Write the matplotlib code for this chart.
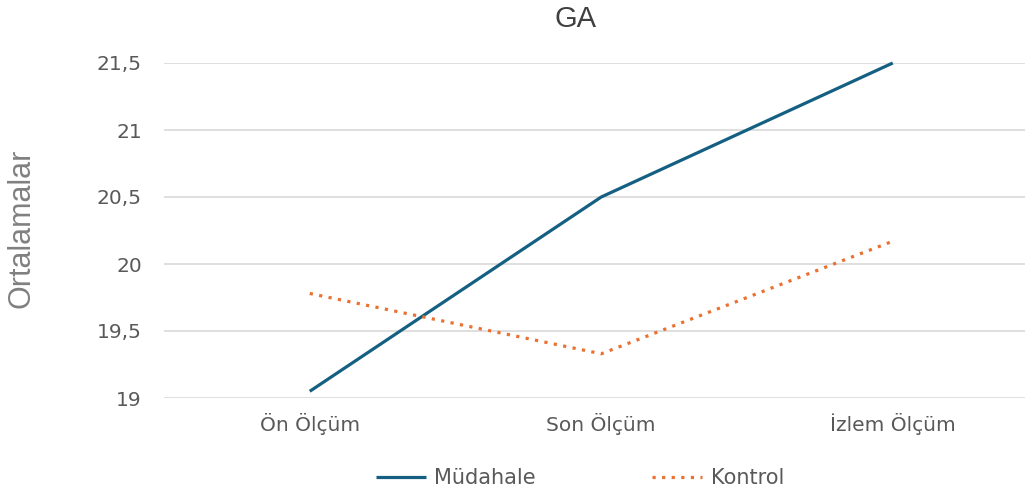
import numpy as np
import matplotlib
matplotlib.use('Agg')
import matplotlib.pyplot as plt
from matplotlib.ticker import FuncFormatter

categories = ['Ön Ölçüm', 'Son Ölçüm', 'İzlem Ölçüm']
mudahale = [19.05, 20.5, 21.5]
kontrol = [19.78, 19.33, 20.17]
yticks = [19, 19.5, 20, 20.5, 21, 21.5]

blue = '#156082'
orange = '#E97132'
txt = '#595959'

fig = plt.figure(figsize=(10.25, 4.95), dpi=100)
ax = fig.add_axes([164 / 1025, 97 / 495, 874.5 / 1025, 335 / 495])

x = np.arange(len(categories))
ax.plot(x, mudahale, color=blue, lw=2.3, solid_capstyle='butt', clip_on=False, label='Müdahale')
ax.plot(x, kontrol, color=orange, lw=2.3, linestyle=(0, (1, 2)), clip_on=False, label='Kontrol')

ax.set_xlim(-0.5, 2.5)
ax.set_ylim(19, 21.5)
ax.set_yticks(yticks)
ax.yaxis.set_major_formatter(FuncFormatter(lambda v, p: f'{v:g}'.replace('.', ',')))
ax.set_xticks(x)
ax.set_xticklabels(categories)
ax.grid(axis='y', color='#d9d9d9', lw=1.2)
ax.set_axisbelow(True)
for s in ax.spines.values():
    s.set_visible(False)
ax.tick_params(axis='both', length=0, colors=txt, labelsize=14.5)
ax.tick_params(axis='y', pad=16)
ax.tick_params(axis='x', pad=11)

fig.text(575 / 1025, 1 - 19 / 495, 'GA', ha='center', va='center',
         fontsize=21, color='#404040', family='Liberation Sans')
fig.text(22 / 1025, 1 - 228 / 495, 'Ortalamalar', ha='center', va='center', rotation=90,
         fontsize=22, color='#808080', family='Liberation Sans')

fig.legend(loc='center', bbox_to_anchor=(580 / 1025, 1 - 478 / 495), ncol=2, frameon=False,
           fontsize=15, labelcolor=txt, handlelength=2.4, handletextpad=0.4,
           columnspacing=5.6)

fig.savefig('out.png', dpi=100)
